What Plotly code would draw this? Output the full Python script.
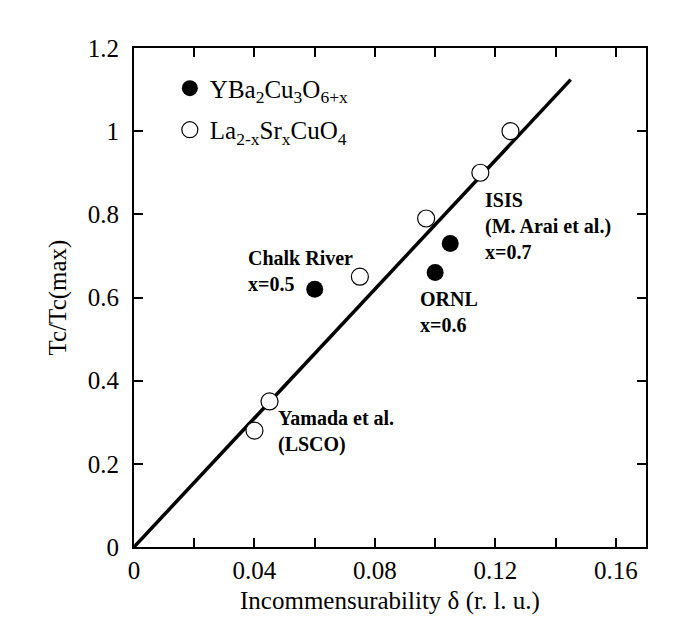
import plotly.graph_objects as go

# ---- data ----
ybco_delta = [0.060, 0.100, 0.105]
ybco_tc = [0.62, 0.66, 0.73]

lsco_delta = [0.040, 0.045, 0.075, 0.097, 0.115, 0.125]
lsco_tc = [0.28, 0.35, 0.65, 0.79, 0.90, 1.00]

fit_delta = [0.0, 0.145]
fit_tc = [0.0, 1.124]

x_tick_vals = [0, 0.04, 0.08, 0.12, 0.16]
x_tick_text = ["0", "0.04", "0.08", "0.12", "0.16"]
x_minor_dtick = 0.02
y_tick_vals = [0, 0.2, 0.4, 0.6, 0.8, 1.0, 1.2]
y_tick_text = ["0", "0.2", "0.4", "0.6", "0.8", "1", "1.2"]

label_texts = ["Chalk River<br>x=0.5", "ORNL<br>x=0.6",
               "ISIS<br>(M. Arai et al.)<br>x=0.7", "Yamada et al.<br>(LSCO)"]
label_x = [0.0371, 0.0942, 0.1158, 0.0473]
label_y = [0.664, 0.565, 0.772, 0.277]

FONT = "Liberation Serif, Times New Roman, serif"

fig = go.Figure()
fig.add_trace(go.Scatter(x=fit_delta, y=fit_tc, mode="lines",
                         line=dict(color="black", width=3.5), showlegend=False,
                         hoverinfo="skip"))
fig.add_trace(go.Scatter(x=ybco_delta, y=ybco_tc, mode="markers",
                         name="YBa<sub>2</sub>Cu<sub>3</sub>O<sub>6+x</sub>",
                         legendgroup="ybco",
                         marker=dict(color="black", size=17, symbol="circle",
                                     line=dict(color="black", width=0))))
fig.add_trace(go.Scatter(x=lsco_delta, y=lsco_tc, mode="markers",
                         name="La<sub>2-x</sub>Sr<sub>x</sub>CuO<sub>4</sub>",
                         legendgroup="lsco",
                         marker=dict(color="white", size=17, symbol="circle",
                                     line=dict(color="black", width=1.2))))

for t, lx, ly in zip(label_texts, label_x, label_y):
    fig.add_annotation(x=lx, y=ly, text="<b>" + t + "</b>", showarrow=False,
                       xanchor="left", yanchor="middle", align="left",
                       font=dict(family=FONT, size=20, color="black"))

axis_common = dict(showline=True, linecolor="black", linewidth=2, mirror="ticks",
                   ticks="inside", ticklen=9, tickwidth=2, tickcolor="black",
                   showgrid=False, zeroline=False,
                   tickfont=dict(family=FONT, size=25, color="black"))

fig.update_xaxes(range=[0, 0.17], tickmode="array", tickvals=x_tick_vals,
                 ticktext=x_tick_text,
                 minor=dict(dtick=x_minor_dtick, tick0=0, ticks="inside",
                            ticklen=9, tickwidth=2, tickcolor="black",
                            showgrid=False),
                 title=dict(text="Incommensurability δ (r. l. u.)",
                            font=dict(family=FONT, size=25, color="black"),
                            standoff=8),
                 **axis_common)
fig.update_yaxes(range=[0, 1.2], tickmode="array", tickvals=y_tick_vals,
                 ticktext=y_tick_text, ticklabelstandoff=8,
                 title=dict(text="Tc/Tc(max)",
                            font=dict(family=FONT, size=25, color="black"),
                            standoff=14),
                 **axis_common)

fig.update_layout(
    width=685, height=621,
    margin=dict(l=126, r=47, t=40, b=82, autoexpand=False),
    paper_bgcolor="white", plot_bgcolor="white",
    font=dict(family=FONT, size=25, color="black"),
    legend=dict(x=0.07, y=0.965, xanchor="left", yanchor="top",
                bgcolor="rgba(0,0,0,0)", borderwidth=0,
                traceorder="grouped", tracegroupgap=6,
                font=dict(family=FONT, size=25, color="black")),
    showlegend=True,
)

fig.write_html("out.html")
